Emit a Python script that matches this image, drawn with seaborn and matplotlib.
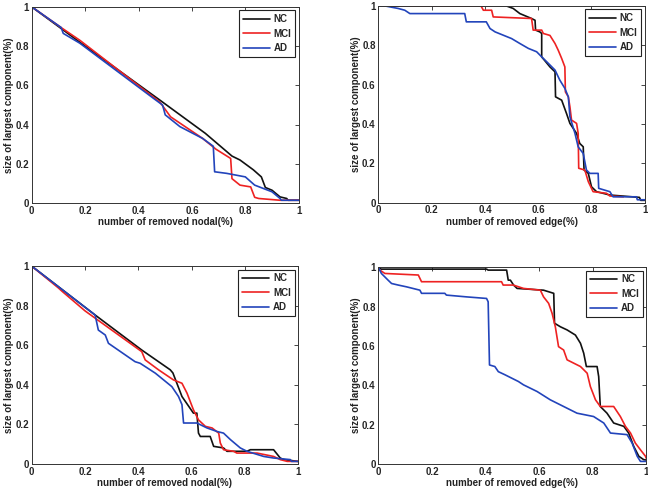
import numpy as np
import pandas as pd
import matplotlib
matplotlib.use("Agg")
import matplotlib.pyplot as plt
import seaborn as sns

# ---- data (x = fraction removed, y = largest component) ----
groups = ["NC", "MCI", "AD"]
colors = {"NC": "#111111", "MCI": "#ee2222", "AD": "#2244bb"}

# top-left: nodal attack (1)
n1_nc_x = [0.0, 0.17, 0.48, 0.65, 0.75, 0.78, 0.83, 0.86, 0.875, 0.90, 0.93, 0.955, 0.96, 1.0]
n1_nc_y = [1.0, 0.83, 0.525, 0.356, 0.24, 0.22, 0.17, 0.134, 0.08, 0.066, 0.032, 0.024, 0.015, 0.015]
n1_mci_x = [0.0, 0.115, 0.18, 0.48, 0.52, 0.64, 0.69, 0.745, 0.75, 0.78, 0.82, 0.835, 0.85, 0.93, 1.0]
n1_mci_y = [1.0, 0.89, 0.83, 0.515, 0.44, 0.33, 0.275, 0.228, 0.125, 0.092, 0.083, 0.03, 0.024, 0.015, 0.015]
n1_ad_x = [0.0, 0.11, 0.118, 0.18, 0.46, 0.49, 0.50, 0.555, 0.64, 0.68, 0.685, 0.73, 0.80, 0.835,
           0.90, 0.93, 0.935, 1.0]
n1_ad_y = [1.0, 0.895, 0.865, 0.815, 0.53, 0.50, 0.45, 0.39, 0.33, 0.29, 0.16, 0.152, 0.134, 0.092,
           0.058, 0.024, 0.015, 0.015]

# top-right: edge attack (1)
e1_nc_x = [0.0, 0.48, 0.506, 0.531, 0.575, 0.588, 0.59, 0.606, 0.613, 0.613, 0.644, 0.663, 0.665,
           0.688, 0.706, 0.719, 0.744, 0.756, 0.769, 0.772, 0.788, 0.80, 0.819, 0.869, 0.98, 0.985, 1.0]
e1_nc_y = [1.0, 1.0, 0.987, 0.961, 0.936, 0.927, 0.877, 0.868, 0.86, 0.741, 0.69, 0.665, 0.538,
           0.521, 0.454, 0.403, 0.352, 0.301, 0.284, 0.166, 0.149, 0.081, 0.056, 0.039, 0.027, 0.012, 0.012]
e1_mci_x = [0.0, 0.385, 0.394, 0.425, 0.431, 0.575, 0.581, 0.613, 0.619, 0.644, 0.663, 0.675, 0.688,
            0.70, 0.702, 0.713, 0.719, 0.725, 0.744, 0.75, 0.752, 0.775, 0.788, 0.806, 0.856, 0.869, 0.92]
e1_mci_y = [1.0, 1.0, 0.978, 0.978, 0.944, 0.936, 0.877, 0.877, 0.86, 0.85, 0.809, 0.775, 0.733,
            0.69, 0.563, 0.538, 0.487, 0.42, 0.403, 0.352, 0.175, 0.166, 0.107, 0.056, 0.048, 0.034, 0.03]
e1_ad_x = [0.0, 0.024, 0.074, 0.099, 0.118, 0.324, 0.33, 0.405, 0.419, 0.438, 0.469, 0.50, 0.531,
           0.563, 0.594, 0.613, 0.638, 0.663, 0.681, 0.70, 0.713, 0.719, 0.738, 0.75, 0.769, 0.781,
           0.794, 0.825, 0.827, 0.869, 0.881, 0.969, 0.972, 1.0]
e1_ad_y = [1.0, 1.0, 0.987, 0.978, 0.961, 0.961, 0.919, 0.919, 0.885, 0.868, 0.851, 0.834, 0.809,
           0.784, 0.767, 0.741, 0.708, 0.674, 0.623, 0.581, 0.538, 0.437, 0.352, 0.284, 0.25, 0.166,
           0.149, 0.149, 0.073, 0.056, 0.03, 0.03, 0.015, 0.015]

# bottom-left: nodal attack (2)
n2_nc_x = [0.0, 0.238, 0.413, 0.52, 0.53, 0.564, 0.607, 0.62, 0.626, 0.633, 0.67, 0.683, 0.72,
           0.733, 0.808, 0.821, 0.908, 0.933, 0.946, 1.0]
n2_nc_y = [1.0, 0.753, 0.576, 0.476, 0.46, 0.341, 0.257, 0.257, 0.156, 0.139, 0.139, 0.089, 0.081,
           0.064, 0.064, 0.072, 0.072, 0.03, 0.022, 0.013]
n2_mci_x = [0.0, 0.10, 0.113, 0.2, 0.413, 0.426, 0.476, 0.532, 0.564, 0.583, 0.607, 0.626, 0.652,
            0.677, 0.702, 0.708, 0.72, 0.758, 0.77, 0.846, 0.908, 0.933, 0.959, 1.0]
n2_mci_y = [1.0, 0.89, 0.874, 0.774, 0.568, 0.526, 0.476, 0.425, 0.408, 0.358, 0.274, 0.223, 0.19,
            0.182, 0.156, 0.106, 0.072, 0.064, 0.055, 0.055, 0.038, 0.022, 0.013, 0.013]
n2_ad_x = [0.0, 0.238, 0.25, 0.276, 0.288, 0.388, 0.407, 0.464, 0.526, 0.551, 0.564, 0.57, 0.62,
           0.658, 0.696, 0.72, 0.746, 0.783, 0.808, 0.871, 0.908, 0.971, 0.975, 1.0]
n2_ad_y = [1.0, 0.753, 0.677, 0.652, 0.61, 0.517, 0.509, 0.459, 0.391, 0.341, 0.30, 0.207, 0.207,
           0.182, 0.164, 0.156, 0.123, 0.081, 0.064, 0.038, 0.03, 0.022, 0.013, 0.013]

# bottom-right: edge attack (2)
e2_nc_x = [0.0, 0.01, 0.404, 0.41, 0.479, 0.485, 0.493, 0.505, 0.518, 0.617, 0.655, 0.658, 0.68,
           0.705, 0.736, 0.755, 0.767, 0.777, 0.817, 0.823, 0.829, 0.854, 0.879, 0.917, 0.935, 0.954,
           0.973, 0.991, 1.0]
e2_nc_y = [1.0, 0.99, 0.99, 0.985, 0.985, 0.934, 0.934, 0.909, 0.892, 0.883, 0.867, 0.715, 0.697,
           0.681, 0.655, 0.613, 0.563, 0.495, 0.495, 0.444, 0.292, 0.258, 0.208, 0.191, 0.157, 0.089,
           0.039, 0.022, 0.02]
e2_mci_x = [0.0, 0.024, 0.149, 0.161, 0.46, 0.466, 0.504, 0.542, 0.605, 0.617, 0.636, 0.649, 0.661,
            0.673, 0.692, 0.705, 0.755, 0.78, 0.792, 0.811, 0.829, 0.879, 0.904, 0.923, 0.942, 0.96,
            0.979, 0.998, 1.0]
e2_mci_y = [0.99, 0.968, 0.96, 0.926, 0.926, 0.909, 0.909, 0.892, 0.883, 0.849, 0.816, 0.765, 0.697,
            0.596, 0.579, 0.529, 0.495, 0.461, 0.393, 0.326, 0.292, 0.292, 0.241, 0.191, 0.157, 0.106,
            0.072, 0.039, 0.03]
e2_ad_x = [0.0, 0.011, 0.036, 0.049, 0.074, 0.105, 0.155, 0.161, 0.248, 0.254, 0.329, 0.404, 0.41,
           0.415, 0.435, 0.448, 0.473, 0.498, 0.523, 0.542, 0.593, 0.642, 0.692, 0.742, 0.804, 0.842,
           0.867, 0.929, 0.948, 0.967, 0.979, 1.0]
e2_ad_y = [1.0, 0.968, 0.934, 0.917, 0.909, 0.90, 0.883, 0.867, 0.867, 0.858, 0.849, 0.841, 0.824,
           0.503, 0.495, 0.469, 0.453, 0.436, 0.419, 0.402, 0.368, 0.326, 0.292, 0.258, 0.241, 0.208,
           0.157, 0.149, 0.106, 0.039, 0.013, 0.013]

ticks = [0, 0.2, 0.4, 0.6, 0.8, 1]
tick_labels = ["0", "0.2", "0.4", "0.6", "0.8", "1"]
ylab = "size of largest component(%)"
xlab_node = "number of removed nodal(%)"
xlab_edge = "number of removed edge(%)"


def make_df(nc, mci, ad):
    parts = []
    for g, (xs, ys) in zip(groups, [nc, mci, ad]):
        parts.append(pd.DataFrame({"x": xs, "y": ys, "group": g}))
    return pd.concat(parts, ignore_index=True)


panels = [
    (make_df((n1_nc_x, n1_nc_y), (n1_mci_x, n1_mci_y), (n1_ad_x, n1_ad_y)), xlab_node,
     [0.049, 0.587, 0.412, 0.399]),
    (make_df((e1_nc_x, e1_nc_y), (e1_mci_x, e1_mci_y), (e1_ad_x, e1_ad_y)), xlab_edge,
     [0.584, 0.588, 0.411, 0.400]),
    (make_df((n2_nc_x, n2_nc_y), (n2_mci_x, n2_mci_y), (n2_ad_x, n2_ad_y)), xlab_node,
     [0.049, 0.057, 0.411, 0.402]),
    (make_df((e2_nc_x, e2_nc_y), (e2_mci_x, e2_mci_y), (e2_ad_x, e2_ad_y)), xlab_edge,
     [0.584, 0.057, 0.413, 0.400]),
]

sns.set_style("white")
plt.rcParams["font.family"] = ["Liberation Sans", "DejaVu Sans"]
plt.rcParams["font.weight"] = "bold"

fig = plt.figure(figsize=(6.48, 4.92), dpi=100)

for df, xlab, pos in panels:
    ax = fig.add_axes(pos)
    sns.lineplot(data=df, x="x", y="y", hue="group", palette=colors, sort=False,
                 estimator=None, linewidth=1.2, ax=ax)
    ax.set_xlim(0, 1)
    ax.set_ylim(0, 1)
    ax.set_xticks(ticks)
    ax.set_yticks(ticks)
    ax.set_xticklabels(tick_labels, fontsize=7, fontweight="bold")
    ax.set_yticklabels(tick_labels, fontsize=7, fontweight="bold")
    ax.tick_params(direction="in", length=3, width=0.6, top=True, right=True, pad=2)
    ax.set_xlabel(xlab, fontsize=7, fontweight="bold", labelpad=1, color="#222222")
    ax.set_ylabel(ylab, fontsize=7, fontweight="bold", labelpad=1, color="#222222")
    for sp in ax.spines.values():
        sp.set_color("#333333")
        sp.set_linewidth(0.7)
    leg = ax.legend(loc="upper right", fontsize=7, handlelength=2.8, labelspacing=0.45,
                    borderaxespad=0.35, fancybox=False, framealpha=1, edgecolor="#222222",
                    borderpad=0.4, handletextpad=0.4)
    leg.get_frame().set_linewidth(0.8)

fig.savefig("out.png", dpi=100)
